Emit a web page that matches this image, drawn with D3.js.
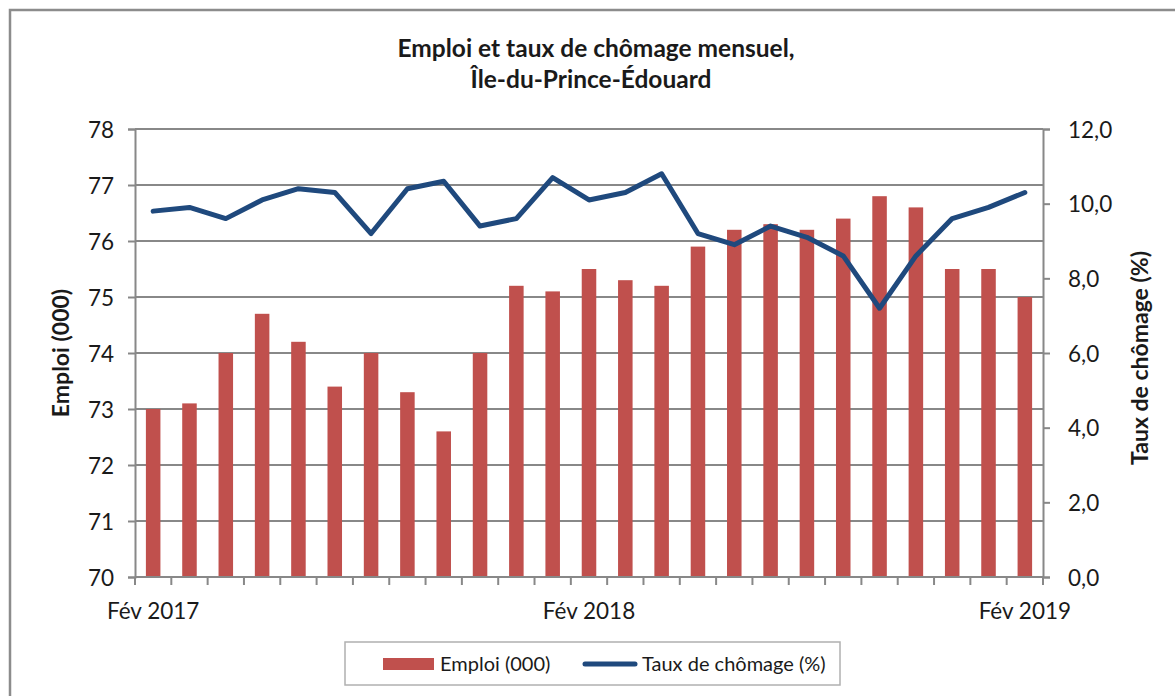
<!DOCTYPE html>
<html><head><meta charset="utf-8">
<script src="https://cdn.jsdelivr.net/npm/d3@7"></script>
<style>body{margin:0;background:#fff}svg{display:block}text{font-family:Lato,"Open Sans",sans-serif;fill:#1a1a1a}</style>
</head><body><svg id="c" width="1175" height="696"></svg>
<script>
const months = ["Fév 2017","Mar 2017","Avr 2017","Mai 2017","Juin 2017","Juil 2017","Aoû 2017","Sep 2017","Oct 2017","Nov 2017","Déc 2017","Jan 2018","Fév 2018","Mar 2018","Avr 2018","Mai 2018","Juin 2018","Juil 2018","Aoû 2018","Sep 2018","Oct 2018","Nov 2018","Déc 2018","Jan 2019","Fév 2019"];
const emploi = [73.0,73.1,74.0,74.7,74.2,73.4,74.0,73.3,72.6,74.0,75.2,75.1,75.5,75.3,75.2,75.9,76.2,76.3,76.2,76.4,76.8,76.6,75.5,75.5,75.0];
const chomage = [9.8,9.9,9.6,10.1,10.4,10.3,9.2,10.4,10.6,9.4,9.6,10.7,10.1,10.3,10.8,9.2,8.9,9.4,9.1,8.6,7.2,8.6,9.6,9.9,10.3];
const xLabels = ["Fév 2017","Fév 2018","Fév 2019"];
const leftTicks = [70,71,72,73,74,75,76,77,78];
const rightTicks = [0,2,4,6,8,10,12];

const svg = d3.select("#c");
const L=135, R=1043, T=129, B=577;
const grid="#888888";

svg.append("rect").attr("x",10).attr("y",10).attr("width",1180).attr("height",700)
  .attr("fill","none").attr("stroke","#8c8c8c").attr("stroke-width",2.5);

const x = d3.scaleBand().domain(months).range([L,R]).paddingInner(0).paddingOuter(0);
const yL = d3.scaleLinear().domain([70,78]).range([B,T]);
const yR = d3.scaleLinear().domain([0,12]).range([B,T]);

svg.append("g").selectAll("line").data(leftTicks.slice(1)).join("line")
  .attr("x1",L).attr("x2",R).attr("y1",d=>yL(d)).attr("y2",d=>yL(d))
  .attr("stroke",grid).attr("stroke-width",2);

const bw = x.bandwidth()*0.4;
svg.append("g").selectAll("rect").data(emploi).join("rect")
  .attr("x",(d,i)=>x(months[i])+x.bandwidth()/2-bw/2)
  .attr("width",bw)
  .attr("y",d=>yL(d)).attr("height",d=>B-yL(d))
  .attr("fill","#C0504D");

const ga = svg.append("g").attr("transform",`translate(${L},0)`)
  .call(d3.axisLeft(yL).tickValues(leftTicks).tickSize(7).tickPadding(14).tickFormat(d3.format("d")));
ga.select(".domain").attr("stroke",grid).attr("stroke-width",2);
ga.selectAll(".tick line").attr("stroke",grid).attr("stroke-width",2);
ga.selectAll("text").style("font-size","22.5px").attr("fill","#1a1a1a").attr("dy","0.36em");

const gr = svg.append("g").attr("transform",`translate(${R},0)`)
  .call(d3.axisRight(yR).tickValues(rightTicks).tickSize(7).tickPadding(18).tickFormat(d=>d3.format(".1f")(d).replace(".",",")));
gr.select(".domain").attr("stroke",grid).attr("stroke-width",2);
gr.selectAll(".tick line").attr("stroke",grid).attr("stroke-width",2);
gr.selectAll("text").style("font-size","22.5px").attr("fill","#1a1a1a").attr("dy","0.36em");

svg.append("line").attr("x1",L).attr("x2",R).attr("y1",B).attr("y2",B).attr("stroke",grid).attr("stroke-width",2);
const bounds = months.map(m=>x(m)).concat([R]);
svg.append("g").selectAll("line").data(bounds).join("line")
  .attr("x1",d=>d).attr("x2",d=>d).attr("y1",B).attr("y2",B+8).attr("stroke",grid).attr("stroke-width",2);
svg.append("g").selectAll("text").data(xLabels).join("text")
  .attr("x",d=>x(d)+x.bandwidth()/2).attr("y",B+42).attr("text-anchor","middle")
  .style("font-size","22.5px").text(d=>d);

const line = d3.line().x((d,i)=>x(months[i])+x.bandwidth()/2).y(d=>yR(d));
svg.append("path").datum(chomage).attr("d",line).attr("fill","none")
  .attr("stroke","#1F497D").attr("stroke-width",5).attr("stroke-linejoin","round").attr("stroke-linecap","round");

const title = svg.append("text").attr("x",594).attr("text-anchor","middle").style("font-size","24.5px").style("font-weight","bold");
title.append("tspan").attr("x",596).attr("y",57).text("Emploi et taux de chômage mensuel,");
title.append("tspan").attr("x",591).attr("y",88).text("Île-du-Prince-Édouard");

svg.append("text").attr("transform",`translate(69,${(T+B)/2}) rotate(-90)`).attr("text-anchor","middle")
  .style("font-size","23px").style("font-weight","bold").text("Emploi (000)");
svg.append("text").attr("transform",`translate(1148,${(T+B)/2+5}) rotate(-90)`).attr("text-anchor","middle")
  .style("font-size","23px").style("font-weight","bold").text("Taux de chômage (%)");

svg.append("rect").attr("x",345).attr("y",642).attr("width",495).attr("height",43)
  .attr("fill","#fff").attr("stroke","#b0b0b0").attr("stroke-width",1.5);
svg.append("rect").attr("x",383).attr("y",658).attr("width",51).attr("height",12).attr("fill","#C0504D");
svg.append("text").attr("x",440).attr("y",671).style("font-size","20px").text("Emploi (000)");
svg.append("line").attr("x1",585).attr("x2",635).attr("y1",664).attr("y2",664)
  .attr("stroke","#1F497D").attr("stroke-width",5).attr("stroke-linecap","round");
svg.append("text").attr("x",642).attr("y",671).style("font-size","20px").text("Taux de chômage (%)");
</script></body></html>
